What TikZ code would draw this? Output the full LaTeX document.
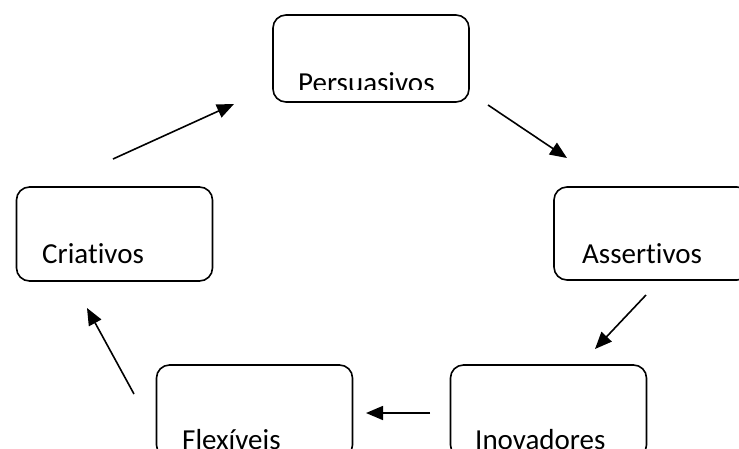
\documentclass[tikz,border=0pt]{standalone}
\usepackage{fontspec}
\setmainfont[Ligatures={NoCommon}]{Carlito}
\usetikzlibrary{arrows.meta}
\tikzset{
  box/.style={draw, line width=1.6pt, rounded corners=13pt, minimum width=196pt, inner sep=0pt},
  lbl/.style={anchor=base west, inner sep=0pt, font=\fontsize{29}{32}\selectfont},
  conn/.style={line width=1.6pt, -{Triangle[length=17pt,width=14pt]}}
}
\begin{document}
\begin{tikzpicture}[x=1pt,y=-1pt]
\useasboundingbox (0,0) rectangle (739,448);
\begin{scope}
\clip (0,0) rectangle (739,448);
% boxes
\node[box, minimum height=87pt] (p) at (371,58.5) {};
\node[box, minimum height=93pt] (a) at (652,233.5) {};
\node[box, minimum height=94pt] (c) at (114.5,234) {};
\node[box, minimum height=93pt] (f) at (254.5,411.5) {};
\node[box, minimum height=93pt] (i) at (548.5,411.5) {};
% labels
\begin{scope}
\clip (273,15) rectangle (469,89);
\node[lbl] (pt) at (298,92.5) {Persuasivos};
\end{scope}
\node[lbl] (at) at (582,263) {Assertivos};
\node[lbl] (ct) at (42,263) {Criativos};
\node[lbl] (ft) at (182,449) {Flexíveis};
\node[lbl] (it) at (475,449) {Inovadores};
\end{scope}
% connector ends
\coordinate (c1) at (113,159);
\coordinate (c2) at (234,104);
\coordinate (p1) at (488,105);
\coordinate (p2) at (567,158);
\coordinate (a1) at (646,295);
\coordinate (a2) at (595,349);
\coordinate (i1) at (430,413);
\coordinate (i2) at (366,413);
\coordinate (f1) at (134,394);
\coordinate (f2) at (87,308);
\draw[conn] (c1) -- (c2);
\draw[conn] (p1) -- (p2);
\draw[conn] (a1) -- (a2);
\draw[conn] (i1) -- (i2);
\draw[conn] (f1) -- (f2);
\end{tikzpicture}
\end{document}
